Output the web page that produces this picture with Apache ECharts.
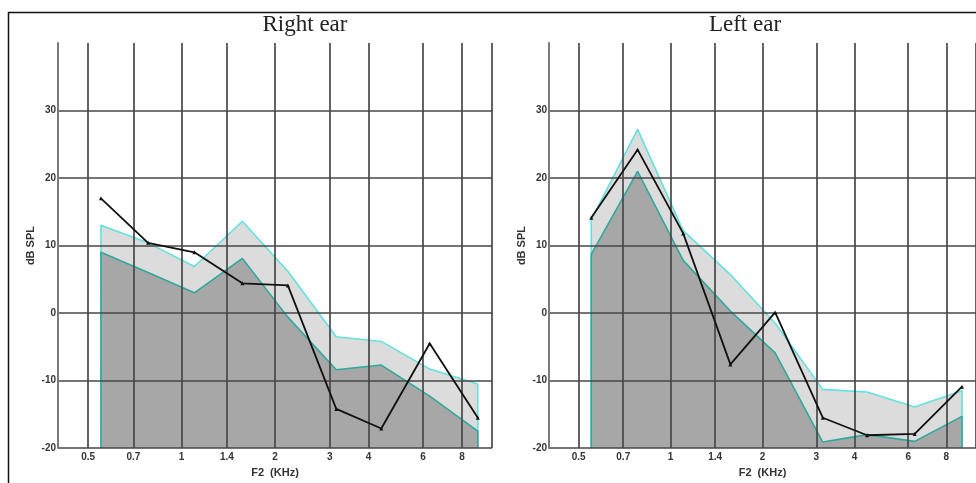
<!DOCTYPE html>
<html>
<head>
<meta charset="utf-8">
<script src="https://cdn.jsdelivr.net/npm/echarts@6/dist/echarts.min.js"></script>
<style>
  html, body { margin: 0; padding: 0; background: #fff; }
  #chart { width: 976px; height: 483px; }
</style>
</head>
<body>
<div id="chart"></div>
<script>
// ---- data ----
const freqs = [0.55, 0.78, 1.1, 1.57, 2.2, 3.15, 4.4, 6.3, 9.0];   // F2 (kHz)
const rightEarUpper    = [13.0, 10.4, 6.9, 13.6, 6.2, -3.5, -4.2, -8.3, -10.5];
const rightEarLower    = [9.0, 6.0, 3.0, 8.1, -0.6, -8.4, -7.7, -12.3, -17.5];
const rightEarMeasured = [17.0, 10.4, 9.0, 4.4, 4.1, -14.2, -17.1, -4.5, -15.5];
const leftEarUpper     = [13.8, 27.2, 12.2, 5.7, -1.5, -11.3, -11.7, -13.9, -11.5];
const leftEarLower     = [8.7, 21.0, 7.8, 0.3, -5.9, -19.1, -18.0, -19.0, -15.3];
const leftEarMeasured  = [14.1, 24.2, 11.8, -7.6, 0.1, -15.5, -18.1, -17.9, -10.9];
const xTickLabels = [0.5, 0.7, 1, 1.4, 2, 3, 4, 6, 8];
const xGridValues = [0.5, 0.7, 1, 1.4, 2, 3, 4, 6, 8, 10];
const panelTitles = ['Right ear', 'Left ear'];
const yMin = -20, yMax = 40, yStep = 10;
const xMin = 0.4, xMax = 10;

// ---- styles ----
const GRID_COLOR = '#474747';
const LABEL_COLOR = '#333';
const CYAN = '#62e2de';
const TEAL = '#2ea89d';
const LIGHT_FILL = '#dcdcdc';
const DARK_FILL = '#a7a7a7';

function band(values) {
  const pts = [[freqs[0], yMin]];
  freqs.forEach((f, i) => pts.push([f, values[i]]));
  pts.push([freqs[freqs.length - 1], yMin]);
  return pts;
}
function pairs(values) { return freqs.map((f, i) => [f, values[i]]); }

const grids = [
  { left: 58, top: 43, width: 434, height: 414 },
  { left: 549, top: 43, width: 435, height: 414 }
];

const hColors = [];
for (let v = yMin; v <= yMax; v += yStep) hColors.push(v === yMax ? 'rgba(0,0,0,0)' : GRID_COLOR);

function xAxisOf(i) {
  return {
    type: 'log', logBase: 10, gridIndex: i, min: xMin, max: xMax, z: 3,
    name: 'F2  (KHz)', nameLocation: 'middle', nameGap: 17,
    nameTextStyle: { fontFamily: 'Liberation Sans', fontWeight: 'bold', fontSize: 11, color: LABEL_COLOR },
    axisLine: { show: false },
    axisTick: { show: false, customValues: xGridValues },
    axisLabel: {
      customValues: xTickLabels, margin: 4,
      fontFamily: 'Liberation Sans', fontWeight: 'bold', fontSize: 10, color: LABEL_COLOR,
      formatter: v => String(+(+v).toFixed(2))
    },
    splitLine: { show: true, lineStyle: { color: GRID_COLOR, width: 1.7 } },
    minorTick: { show: false }, minorSplitLine: { show: false }
  };
}
function yAxisOf(i) {
  return {
    type: 'value', gridIndex: i, min: yMin, max: yMax, interval: yStep, z: 3,
    name: 'dB SPL', nameLocation: 'middle', nameGap: 22, nameRotate: 90,
    nameTextStyle: { fontFamily: 'Liberation Sans', fontWeight: 'bold', fontSize: 11, color: LABEL_COLOR },
    axisLine: { show: true, lineStyle: { color: '#7a7a7a', width: 2 } },
    axisTick: { show: false },
    axisLabel: { showMaxLabel: false, margin: 2, fontFamily: 'Liberation Sans', fontWeight: 'bold', fontSize: 10, color: LABEL_COLOR },
    splitLine: { show: true, lineStyle: { color: hColors, width: 1.7 } }
  };
}
function panelSeries(i, upper, lower, measured) {
  return [
    { type: 'line', xAxisIndex: i, yAxisIndex: i, data: band(upper), symbol: 'none', z: 1,
      lineStyle: { color: CYAN, width: 1.6 }, areaStyle: { color: LIGHT_FILL, opacity: 1, origin: 'start' },
      silent: true, animation: false },
    { type: 'line', xAxisIndex: i, yAxisIndex: i, data: band(lower), symbol: 'none', z: 1,
      lineStyle: { color: TEAL, width: 1.6 }, areaStyle: { color: DARK_FILL, opacity: 1, origin: 'start' },
      silent: true, animation: false },
    { type: 'line', xAxisIndex: i, yAxisIndex: i, data: pairs(measured), z: 5,
      symbol: 'triangle', symbolSize: 4, showSymbol: true,
      itemStyle: { color: '#111' }, lineStyle: { color: '#111', width: 1.8 }, animation: false }
  ];
}

const chart = echarts.init(document.getElementById('chart'), null, { renderer: 'canvas' });
chart.setOption({
  animation: false,
  backgroundColor: '#fff',
  grid: grids,
  xAxis: [xAxisOf(0), xAxisOf(1)],
  yAxis: [yAxisOf(0), yAxisOf(1)],
  series: [
    ...panelSeries(0, rightEarUpper, rightEarLower, rightEarMeasured),
    ...panelSeries(1, leftEarUpper, leftEarLower, leftEarMeasured)
  ],
  graphic: [
    { type: 'rect', z: 10, silent: true, shape: { x: 8.5, y: 12.5, width: 1000, height: 1000 },
      style: { fill: 'none', stroke: '#111', lineWidth: 1.5 } },
    { type: 'text', x: 305, y: 25, z: 10, silent: true,
      style: { text: panelTitles[0], textAlign: 'center', textVerticalAlign: 'middle', align: 'center', verticalAlign: 'middle',
               font: '23px "Liberation Serif"', fill: '#222' } },
    { type: 'text', x: 745, y: 25, z: 10, silent: true,
      style: { text: panelTitles[1], textAlign: 'center', textVerticalAlign: 'middle', align: 'center', verticalAlign: 'middle',
               font: '23px "Liberation Serif"', fill: '#222' } }
  ]
});
</script>
</body>
</html>
